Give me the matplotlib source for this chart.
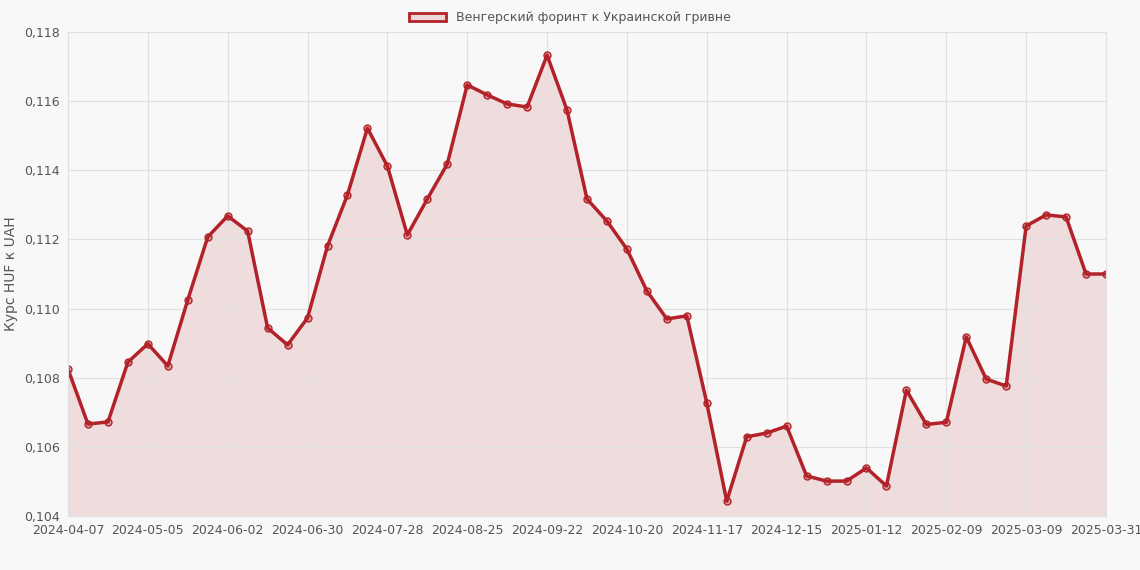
import matplotlib
matplotlib.use("Agg")
import matplotlib.pyplot as plt
import pandas as pd

dates = [d.strftime("%Y-%m-%d") for d in pd.date_range("2024-04-07", periods=52, freq="7D")] + ["2025-03-31"]
values = [0.10825,0.10666,0.10672,0.10845,0.10898,0.10834,0.11025,0.11207,0.11268,0.11224,
          0.10944,0.10895,0.10973,0.11181,0.11329,0.11522,0.11412,0.11213,0.11317,0.11418,
          0.11647,0.11618,0.11592,0.11583,0.11733,0.11574,0.11317,0.11253,0.11172,0.11051,
          0.10970,0.10979,0.10727,0.10443,0.10629,0.10640,0.10660,0.10516,0.10501,0.10501,
          0.10539,0.10487,0.10764,0.10665,0.10671,0.10918,0.10796,0.10776,0.11239,0.11271,
          0.11265,0.11100,0.11100]
series_label = "Венгерский форинт к Украинской гривне"
y_label = "Курс HUF к UAH"
yticks = [0.104,0.106,0.108,0.110,0.112,0.114,0.116,0.118]

bg = "#f8f8f8"
col = "#b22228"
fig = plt.figure(figsize=(11.4,5.7), dpi=100, facecolor=bg)
ax = fig.add_axes([68/1140, 1-516/570, (1106-68)/1140, (516-32)/570], facecolor=bg)
x = list(range(len(values)))
ax.fill_between(x, values, 0.104, color=col, alpha=0.12, lw=0)
ax.plot(x, values, color=col, lw=2.5, marker="o", ms=5, mfc=(0.7,0.13,0.16,0.35), mec=col, mew=1, label=series_label)
ax.set_xlim(0, len(values)-1)
ax.set_ylim(0.104, 0.118)
ax.set_yticks(yticks)
ax.set_yticklabels([f"{v:.3f}".replace(".", ",") for v in yticks])
tix = list(range(0, len(values), 4))
ax.set_xticks(tix)
ax.set_xticklabels([dates[i] for i in tix])
ax.grid(True, color="#e0e0e0", lw=0.8)
for s in ax.spines.values():
    s.set_color("#e0e0e0")
ax.tick_params(colors="#555555", labelsize=9, length=0, pad=6)
ax.set_ylabel(y_label, color="#555555", fontsize=10)
from matplotlib.patches import Patch
fig.legend(handles=[Patch(facecolor=(0.7,0.13,0.16,0.15), edgecolor=col, lw=2, label=series_label)],
           loc="upper center", bbox_to_anchor=(0.5, 1.0), frameon=False, fontsize=9,
           labelcolor="#555555", handlelength=3)
fig.savefig("out.png", dpi=100, facecolor=bg)
